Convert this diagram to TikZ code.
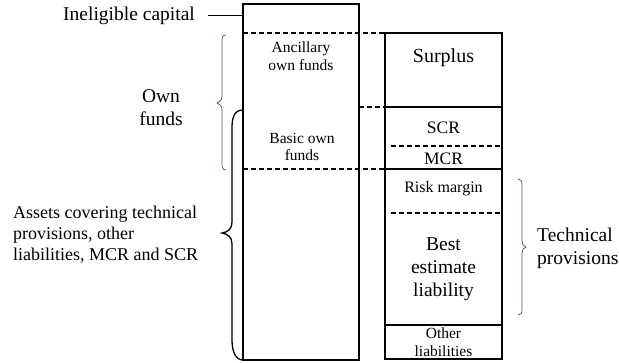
\documentclass[tikz,border=0pt]{standalone}
\usepackage{fontspec}
\setmainfont{Liberation Serif}
\begin{document}
\begin{tikzpicture}[x=1pt,y=-1pt,
  box/.style={draw,line width=1.2pt,inner sep=0pt},
  dline/.style={line width=1.1pt,dash pattern=on 5pt off 3pt},
  sline/.style={line width=1.2pt},
  big/.style={font=\fontsize{19.5}{23}\selectfont,align=center,inner sep=0pt},
  mid/.style={font=\fontsize{17.5}{20}\selectfont,align=center,inner sep=0pt},
  small/.style={font=\fontsize{15.5}{17.5}\selectfont,align=center,inner sep=0pt},
  bracethin/.style={line width=0.7pt,draw={rgb,255:red,70;green,85;blue,110}},
  bracethick/.style={line width=1.3pt}]
\useasboundingbox (0,0) rectangle (619,363);
% boxes
\node[box,minimum width=116pt,minimum height=356pt] (leftbox) at (301,182) {};
\node[box,minimum width=117pt,minimum height=326pt] (rightbox) at (443.5,196) {};
% dashed lines
\draw[dline] (243,33) -- (385,33);
\draw[dline] (359,107) -- (385,107);
\draw[dline] (243,169) -- (385,169);
\draw[dline] (391,146) -- (502,146);
\draw[dline] (391,213) -- (502,213);
% solid lines in right box
\draw[sline] (385,107) -- (502,107);
\draw[sline] (385,169) -- (502,169);
\draw[sline] (385,325) -- (502,325);
% texts in boxes
\node[small] (anc) at (301,56) {Ancillary\\own funds};
\node[small] (basic) at (302,147) {Basic own\\funds};
\node[big,font=\fontsize{20}{23}\selectfont] (surplus) at (443.5,58) {Surplus};
\node[mid] (scr) at (443.5,128) {SCR};
\node[mid] (mcr) at (443.5,159) {MCR};
\node[small,font=\fontsize{16}{18}\selectfont] (risk) at (443.5,189) {Risk margin};
\node[big] (best) at (443.5,269) {Best\\estimate\\liability};
\node[small] (other) at (443.5,342) {Other\\liabilities};
% outer labels
\node[big,anchor=east] (inel) at (195,16) {Ineligible capital};
\draw[line width=1pt] (208,16) -- (leftbox.west |- 0,16);
\node[big] (own) at (161,108) {Own\\funds};
\node[font=\fontsize{18}{21}\selectfont,align=left,inner sep=0pt,anchor=west] (assets) at (13,235) {Assets covering technical\\provisions, other\\liabilities, MCR and SCR};
\node[big,align=left,anchor=west] (tech) at (537,248) {Technical\\provisions};
% braces
\draw[bracethin] (226,35) .. controls (222,35) and (222,38) .. (222,42) -- (222,96)
  .. controls (222,100) and (220,102) .. (217,103)
  .. controls (220,104) and (222,106) .. (222,110) -- (222,163)
  .. controls (222,167) and (222,170) .. (226,170);
\draw[bracethick] (243,110) .. controls (234,110) and (232,118) .. (232,128) -- (232,222)
  .. controls (232,229) and (228,232) .. (222,233)
  .. controls (228,234) and (232,237) .. (232,244) -- (232,340)
  .. controls (232,352) and (236,360) .. (243,360);
\draw[bracethin] (518,179) .. controls (521,179) and (522,181) .. (522,185) -- (522,241)
  .. controls (522,244) and (523,246) .. (526,247)
  .. controls (523,248) and (522,250) .. (522,253) -- (522,309)
  .. controls (522,313) and (521,315) .. (518,315);
\end{tikzpicture}
\end{document}
